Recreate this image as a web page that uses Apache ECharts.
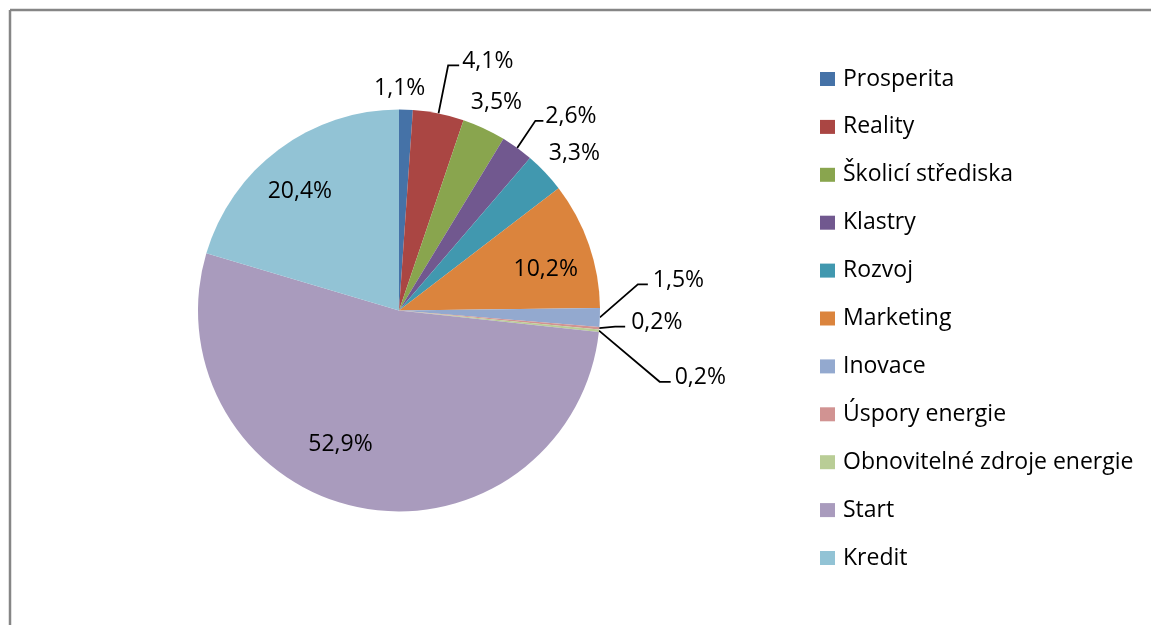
<!DOCTYPE html>
<html><head><meta charset="utf-8">
<script src="https://cdn.jsdelivr.net/npm/echarts@6/dist/echarts.min.js"></script>
<style>html,body{margin:0;padding:0;background:#fff}#c{width:1151px;height:625px}</style>
</head><body><div id="c"></div>
<script>
const categories = ['Prosperita','Reality','Školicí střediska','Klastry','Rozvoj','Marketing','Inovace','Úspory energie','Obnovitelné zdroje energie','Start','Kredit'];
const values = [1.1, 4.1, 3.5, 2.6, 3.3, 10.2, 1.5, 0.2, 0.2, 52.9, 20.4];
const colors = ['#4572A7','#AA4643','#89A54E','#71588F','#4198AF','#DB843D','#93A9CF','#D19392','#B9CD96','#A99BBD','#92C3D5'];

// label placement styling (not data)
const labelMode = ['free','line','free','line','free','inside','line','line','line','inside','inside'];
const labelLen  = [21.5, 49, 29.5, 31, 35.5, -48.4, 38, 16, 61, -56, -45.2];
const labelLen2 = [0, 11, 0, 8, 0, 0, 10, 10, 11, 0, 0];
const labelDist = [0, 3, 0, 2, 0, 0, 5, 6, 4, 0, 0];
const labelDx   = [-7, 0, 0, 0, 3.5, 2.5, 0, 0, 0, -30, -6];
const labelDy   = [0, 0, 1, -2, 5, 9, -34.4, -3, 45, -8.5, 6];
const textRaise = -4;
const FONT = 'Open Sans';

const seriesData = categories.map((name, i) => ({
  name: name,
  value: values[i],
  itemStyle: { color: colors[i] },
  label: { position: 'outside', distanceToLabelLine: labelDist[i] },
  labelLine: { show: labelMode[i] === 'line', length: labelLen[i], length2: labelLen2[i] }
}));

const chart = echarts.init(document.getElementById('c'), null, { renderer: 'canvas' });
chart.setOption({
  animation: false,
  backgroundColor: '#ffffff',
  graphic: [
    { type: 'line', shape: { x1: 10, y1: 10, x2: 1151, y2: 10 }, style: { stroke: '#868686', lineWidth: 2.5 } },
    { type: 'line', shape: { x1: 10, y1: 10, x2: 10, y2: 625 }, style: { stroke: '#868686', lineWidth: 2.5 } }
  ],
  legend: {
    orient: 'vertical',
    left: 820,
    top: 67.5,
    padding: 0,
    itemWidth: 15,
    itemHeight: 14,
    itemGap: 24.9,
    icon: 'rect',
    data: categories,
    selectedMode: false,
    textStyle: { fontFamily: FONT, fontSize: 23, lineHeight: 20, color: '#000', padding: [3, 0, 0, 3] }
  },
  series: [{
    type: 'pie',
    center: [399, 310.5],
    radius: 201,
    startAngle: 90,
    clockwise: true,
    avoidLabelOverlap: false,
    itemStyle: { borderWidth: 0 },
    label: {
      show: true,
      color: '#000',
      fontFamily: FONT,
      fontSize: 23,
      formatter: function (p) { return p.value.toFixed(1).replace('.', ',') + '%'; }
    },
    labelLine: { lineStyle: { color: '#000', width: 1.8 } },
    labelLayout: function (p) {
      const i = p.dataIndex;
      if (labelMode[i] === 'line' && p.labelLinePoints) {
        const pts = p.labelLinePoints.map(q => [q[0], q[1]]);
        pts[1][1] += labelDy[i];
        pts[2][1] += labelDy[i];
        return { y: pts[2][1] + textRaise, labelLinePoints: pts };
      }
      const r = p.labelRect;
      const ax = p.align === 'right' ? r.x + r.width : (p.align === 'center' ? r.x + r.width / 2 : r.x);
      return { x: ax + labelDx[i], y: r.y + r.height / 2 + labelDy[i], align: 'center', verticalAlign: 'middle' };
    },
    data: seriesData
  }]
});
</script>
</body></html>
